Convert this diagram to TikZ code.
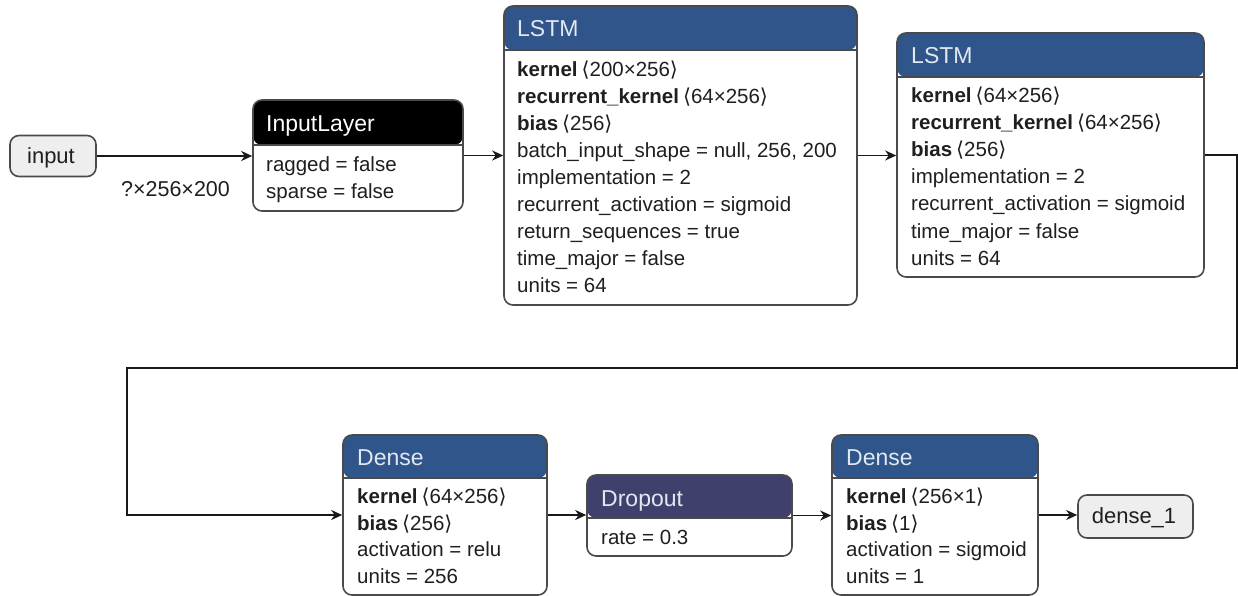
\documentclass[tikz,border=0pt]{standalone}
\usepackage{fontspec}
\setmainfont{Liberation Sans}
\newfontfamily\symfont{DejaVu Sans}
\usetikzlibrary{arrows.meta}
\definecolor{hdrblue}{HTML}{30558A}
\definecolor{hdrdrop}{HTML}{3F416C}
\definecolor{bordergray}{HTML}{4A4A4A}
\definecolor{iofill}{HTML}{EEEEEE}
\definecolor{hdrtxt}{HTML}{E2E8F1}
\newcommand{\lbr}{{\symfont ⟨}}
\newcommand{\rbr}{{\symfont ⟩}}
\newcommand{\wt}[2]{\textbf{#1}\hspace{4pt}\lbr#2\rbr}
\tikzset{
  box/.style={draw=bordergray, line width=1.6pt, rounded corners=9pt, inner sep=0pt, fill=white},
  io/.style={draw=bordergray, line width=1.6pt, rounded corners=9pt, fill=iofill, inner sep=0pt},
  iotext/.style={anchor=base, inner sep=0pt, font=\fontsize{22}{26}\selectfont, text=black!88},
  header/.style 2 args={path picture={
      \fill[#1] (path picture bounding box.north west) rectangle ([yshift=-#2]path picture bounding box.north east);
      \draw[bordergray, line width=1.2pt] ([yshift=-#2]path picture bounding box.north west) -- ([yshift=-#2]path picture bounding box.north east);}},
  row/.style={anchor=base west, inner sep=0pt, font=\fontsize{20.5}{24}\selectfont, text=black!88},
  hdrtext/.style={anchor=base west, inner sep=0pt, font=\fontsize{23}{27}\selectfont, text=hdrtxt},
  edge/.style={line width=1.8pt, draw=black!90, -{Stealth[length=11pt, width=10pt, inset=3.5pt]}},
  lbl/.style={anchor=base, inner sep=0pt, font=\fontsize{21.5}{25}\selectfont, text=black!88}
}
\begin{document}
\begin{tikzpicture}[x=1pt, y=-1pt]
\useasboundingbox (0,0) rectangle (1238,596);

% boxes
\node[io, minimum width=86pt, minimum height=41pt] (input) at (53,156) {};
\node[box, header={black}{45pt}, minimum width=210pt, minimum height=111pt] (inl) at (358,155.5) {};
\node[box, header={hdrblue}{44pt}, minimum width=353pt, minimum height=299pt] (lstma) at (680.5,155.5) {};
\node[box, header={hdrblue}{44pt}, minimum width=307pt, minimum height=244pt] (lstmb) at (1050.5,155) {};
\node[box, header={hdrblue}{43pt}, minimum width=204pt, minimum height=160pt] (densea) at (445,515) {};
\node[box, header={hdrdrop}{43pt}, minimum width=205pt, minimum height=81pt] (drop) at (689.5,515.5) {};
\node[box, header={hdrblue}{43pt}, minimum width=206pt, minimum height=160pt] (denseb) at (935,515) {};
\node[io, minimum width=115pt, minimum height=43pt] (out) at (1135.5,516.5) {};

\node[iotext] (inputt) at (51,164) {input};
\node[iotext] (outt) at (1134,523.3) {dense\_1};

% InputLayer
\node[hdrtext, text=white] (inlt) at (266,131.7) {InputLayer};
\node[row] (inl1) at (266,171.7) {ragged = false};
\node[row] (inl2) at (266,198.3) {sparse = false};

% LSTM 1
\node[hdrtext] (lat) at (517,36.6) {LSTM};
\node[row] (la1) at (517,76.7) {\wt{kernel}{200×256}};
\node[row] (la2) at (517,103.7) {\wt{recurrent\_kernel}{64×256}};
\node[row] (la3) at (517,130.7) {\wt{bias}{256}};
\node[row] (la4) at (517,157.7) {batch\_input\_shape = null, 256, 200};
\node[row] (la5) at (517,184.7) {implementation = 2};
\node[row] (la6) at (517,211.7) {recurrent\_activation = sigmoid};
\node[row] (la7) at (517,238.7) {return\_sequences = true};
\node[row] (la8) at (517,265.7) {time\_major = false};
\node[row] (la9) at (517,292.7) {units = 64};

% LSTM 2
\node[hdrtext] (lbt) at (911,63.6) {LSTM};
\node[row] (lb1) at (911,102.5) {\wt{kernel}{64×256}};
\node[row] (lb2) at (911,129.6) {\wt{recurrent\_kernel}{64×256}};
\node[row] (lb3) at (911,156.7) {\wt{bias}{256}};
\node[row] (lb4) at (911,183.8) {implementation = 2};
\node[row] (lb5) at (911,210.9) {recurrent\_activation = sigmoid};
\node[row] (lb6) at (911,238) {time\_major = false};
\node[row] (lb7) at (911,265.1) {units = 64};

% Dense 1
\node[hdrtext] (dat) at (357,465.5) {Dense};
\node[row] (da1) at (357,503.3) {\wt{kernel}{64×256}};
\node[row] (da2) at (357,530) {\wt{bias}{256}};
\node[row] (da3) at (357,556.7) {activation = relu};
\node[row] (da4) at (357,583.3) {units = 256};

% Dropout
\node[hdrtext] (drt) at (601,506) {Dropout};
\node[row] (dr1) at (601,544) {rate = 0.3};

% Dense 2
\node[hdrtext] (dbt) at (846,465.5) {Dense};
\node[row] (db1) at (846,503.3) {\wt{kernel}{256×1}};
\node[row] (db2) at (846,530) {\wt{bias}{1}};
\node[row] (db3) at (846,556.7) {activation = sigmoid};
\node[row] (db4) at (846,583.3) {units = 1};

% label
\node[lbl] (shape) at (175.5,196.7) {?×256×200};

% connectors
\coordinate (ca) at (1237,368);
\coordinate (cb) at (127,368);
\draw[edge] (input.east) -- (input.east -| inl.west);
\draw[edge] (inl.east) -- (inl.east -| lstma.west);
\draw[edge] (lstma.east) -- (lstma.east -| lstmb.west);
\draw[edge] (lstmb.east) -| (ca) -- (cb) |- (densea.west);
\draw[edge] (densea.east) -- (densea.east -| drop.west);
\draw[edge] (drop.east) -- (drop.east -| denseb.west);
\draw[edge] (denseb.east) -- (denseb.east -| out.west);
\end{tikzpicture}
\end{document}
